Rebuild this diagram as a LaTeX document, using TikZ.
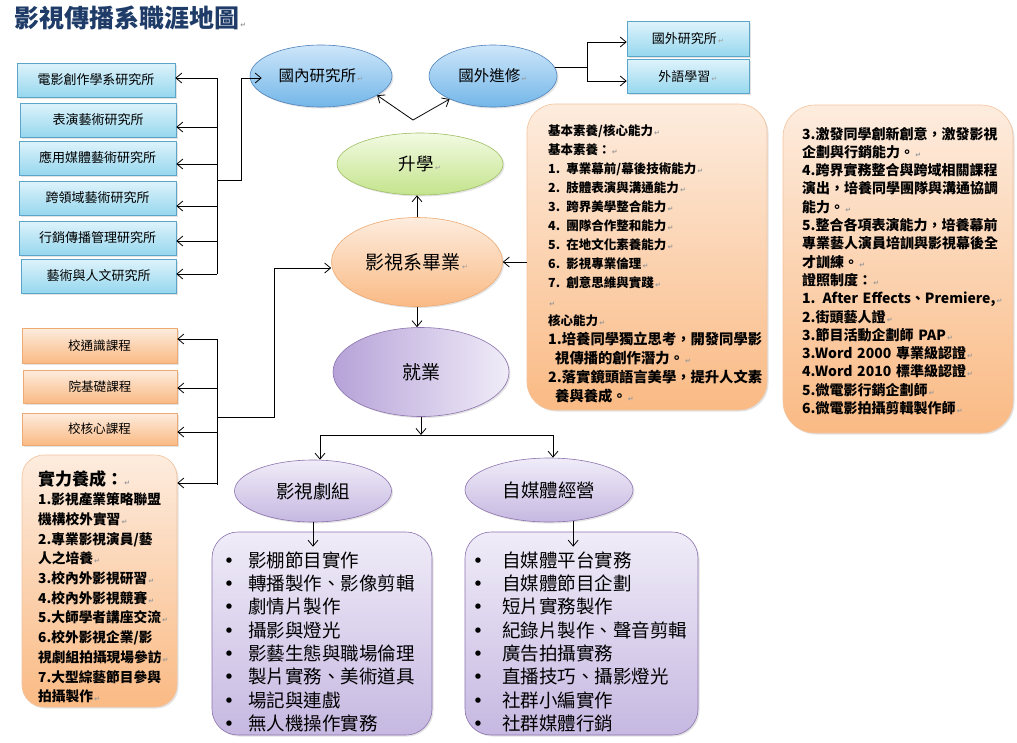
\documentclass[tikz,border=0pt]{standalone}
\usepackage{fontspec}
\setmainfont{Noto Sans CJK TC}
\newfontfamily\dvs{DejaVu Sans}
\usetikzlibrary{arrows.meta,shapes.geometric,shadows,calc}
\definecolor{bxT}{RGB}{222,243,251}
\definecolor{bxB}{RGB}{150,215,238}
\definecolor{bxD}{RGB}{90,165,200}
\definecolor{elT}{RGB}{205,230,250}
\definecolor{elB}{RGB}{115,182,232}
\definecolor{elD}{RGB}{80,130,185}
\definecolor{grT}{RGB}{242,250,226}
\definecolor{grB}{RGB}{196,228,140}
\definecolor{grD}{RGB}{160,190,100}
\definecolor{orT}{RGB}{253,236,222}
\definecolor{orB}{RGB}{250,186,132}
\definecolor{orD}{RGB}{238,170,115}
\definecolor{puT}{RGB}{240,236,248}
\definecolor{puB}{RGB}{198,184,225}
\definecolor{puD}{RGB}{140,115,175}
\definecolor{puL}{RGB}{182,162,216}
\definecolor{ttl}{RGB}{31,60,105}
\newcommand{\retmark}{{\dvs\fontsize{7}{7}\selectfont\color{black!40}\,↵}}
\newcommand{\lbul}[1]{\makebox[#1][l]{\dvs •}}
\tikzset{
  arr/.style={-{Straight Barb[length=6pt,width=10pt]}, line width=0.8pt},
  ln/.style={line width=0.8pt},
  shad/.style={drop shadow={opacity=0.22,shadow xshift=1.5pt,shadow yshift=-1.5pt}},
  bluebox/.style={draw=bxD, line width=0.6pt, top color=bxT, bottom color=bxB, minimum height=34pt, inner sep=0pt, font=\fontsize{13}{15}\selectfont, shad},
  orbox/.style={draw=orD, line width=0.6pt, top color=orT, bottom color=orB, inner sep=0pt, font=\fontsize{12.6}{15}\selectfont, shad},
  orbig/.style={draw=orD!70, line width=0.6pt, top color=orT, bottom color=orB, inner sep=0pt, shad},
  purbig/.style={draw=puD, line width=0.6pt, top color=puT, bottom color=puB, inner sep=0pt, shad},
  blueell/.style={ellipse, draw=elD, line width=0.6pt, top color=elT, bottom color=elB, inner sep=0pt, font=\fontsize{15.5}{18}\selectfont, shad},
  greenell/.style={ellipse, draw=grD, line width=0.6pt, top color=grT, bottom color=grB, inner sep=0pt, font=\fontsize{17.5}{20}\selectfont, shad},
  orell/.style={ellipse, draw=orD, line width=0.6pt, top color=orT, bottom color=orB, inner sep=0pt, font=\fontsize{19}{22}\selectfont, shad},
  jobell/.style={ellipse, draw=puD, line width=0.6pt, left color=puL, right color=puT, inner sep=0pt, font=\fontsize{19}{22}\selectfont, shad},
  purell/.style={ellipse, draw=puD, line width=0.6pt, top color=puT, bottom color=puB, inner sep=0pt, font=\fontsize{18.5}{22}\selectfont, shad},
  txt/.style={anchor=north west, inner sep=0pt, align=left}
}
\begin{document}
\begin{tikzpicture}[x=1pt,y=-1pt]
\useasboundingbox (0,0) rectangle (1017,742);
\fill[white] (0,0) rectangle (1017,742);

% title
\node[anchor=west, inner sep=0pt, text=ttl, font=\fontsize{25}{28}\selectfont\bfseries] (title) at (14,18) {影視傳播系職涯地圖\retmark};

% left blue boxes
\node[bluebox, minimum width=158pt] (b1) at (96,80) {電影創作學系研究所};
\node[bluebox, minimum width=156pt] (b2) at (98,120) {表演藝術研究所};
\node[bluebox, minimum width=157pt] (b3) at (97.5,158) {應用媒體藝術研究所};
\node[bluebox, minimum width=157pt] (b4) at (97.5,198) {跨領域藝術研究所};
\node[bluebox, minimum width=157pt] (b5) at (97.5,238) {行銷傳播管理研究所};
\node[bluebox, minimum width=155pt] (b6) at (98.5,276) {藝術與人文研究所};

% top right boxes
\node[bluebox, minimum width=122pt, minimum height=35pt] (fr) at (688,39) {國外研究所\retmark};
\node[bluebox, minimum width=122pt] (fl) at (688,76.5) {外語學習\retmark};

% ellipses
\node[blueell, minimum width=142pt, minimum height=62pt] (nd) at (321,76) {國內研究所\retmark};
\node[blueell, minimum width=128pt, minimum height=62pt] (fw) at (493,76) {國外進修\retmark};
\node[greenell, minimum width=166pt, minimum height=62pt] (up) at (420,164) {升學\retmark};
\node[orell, minimum width=171pt, minimum height=89pt] (grad) at (417,262) {影視系畢業\retmark};
\node[jobell, minimum width=176pt, minimum height=89pt] (job) at (421,372) {就業};
\node[purell, minimum width=157pt, minimum height=62pt] (crew) at (313,491) {影視劇組};
\node[purell, minimum width=168pt, minimum height=64pt] (self) at (549,490) {自媒體經營};

% left orange boxes
\node[orbox, minimum width=155pt, minimum height=35pt] (o1) at (99.5,345.5) {校通識課程};
\node[orbox, minimum width=154pt, minimum height=33pt] (o2) at (100,386.5) {院基礎課程};
\node[orbox, minimum width=155pt, minimum height=32pt] (o3) at (99.5,429) {校核心課程};

% big rounded boxes
\node[orbig, minimum width=240pt, minimum height=306pt, rounded corners=28pt] (cbox) at (647,257) {};
\node[orbig, minimum width=230pt, minimum height=328pt, rounded corners=32pt] (rbox) at (898,269) {};
\node[orbig, minimum width=155pt, minimum height=252pt, rounded corners=22pt] (skbox) at (99.5,581) {};
\node[purbig, minimum width=220pt, minimum height=203pt, rounded corners=26pt] (cl) at (322,633.5) {};
\node[purbig, minimum width=233pt, minimum height=203pt, rounded corners=26pt] (sl) at (581.5,633.5) {};

% center box text
\node[txt, text width=219pt, font=\fontsize{12.5}{19}\selectfont\bfseries] (ctext) at (548,124.5) {%
基本素養/核心能力\retmark\\
基本素養：\retmark\\
1. 專業幕前/幕後技術能力\retmark\\
2. 肢體表演與溝通能力\retmark\\
3. 跨界美學整合能力\retmark\\
4. 團隊合作整和能力\retmark\\
5. 在地文化素養能力\retmark\\
6. 影視專業倫理\retmark\\
7. 創意思維與實踐\retmark\\
\retmark\\
核心能力\retmark\\
{\fontsize{14.3}{19}\selectfont 1.培養同學獨立思考，開發同學影}\\
\hspace*{7pt}{\fontsize{14.3}{19}\selectfont 視傳播的創作潛力。}\retmark\\
{\fontsize{14.3}{19}\selectfont 2.落實鏡頭語言美學，提升人文素}\\
\hspace*{7pt}{\fontsize{14.3}{19}\selectfont 養與養成。}\retmark};

% right box text
\node[txt, text width=211pt, font=\fontsize{14}{18.3}\selectfont\bfseries] (rtext) at (802,126.7) {%
3.激發同學創新創意，激發影視\\
企劃與行銷能力。\retmark\\
4.跨界實務整合與跨域相關課程\\
演出，培養同學團隊與溝通協調\\
能力。\retmark\\
5.整合各項表演能力，培養幕前\\
專業藝人演員培訓與影視幕後全\\
才訓練。\retmark\\
證照制度：\retmark\\
1. After Effects、Premiere,\retmark\\
2.街頭藝人證\retmark\\
3.節目活動企劃師 PAP\retmark\\
3.Word 2000 專業級認證\retmark\\
4.Word 2010 標準級認證\retmark\\
5.微電影行銷企劃師\retmark\\
6.微電影拍攝剪輯製作師\retmark};

% skill box text
\node[txt, text width=136pt, font=\fontsize{13.7}{19.7}\selectfont\bfseries] (sktext) at (38,470) {%
{\fontsize{17}{19.7}\selectfont 實力養成：}\retmark\\
1.影視產業策略聯盟\\
機構校外實習\retmark\\
2.專業影視演員/藝\\
人之培養\retmark\\
3.校內外影視研習\retmark\\
4.校內外影視競賽\retmark\\
5.大師學者講座交流\retmark\\
6.校外影視企業/影\\
視劇組拍攝現場參訪\retmark\\
7.大型綜藝節目參與\\
拍攝製作\retmark};

% list texts
\node[txt, text width=205pt, font=\fontsize{18.5}{23.3}\selectfont] (cltext) at (223.5,551.5) {%
\lbul{24.5pt}影棚節目實作\\
\lbul{24.5pt}轉播製作、影像剪輯\\
\lbul{24.5pt}劇情片製作\\
\lbul{24.5pt}攝影與燈光\\
\lbul{24.5pt}影藝生態與職場倫理\\
\lbul{24.5pt}製片實務、美術道具\\
\lbul{24.5pt}場記與連戲\\
\lbul{24.5pt}無人機操作實務};
\node[txt, text width=225pt, font=\fontsize{18.5}{23.3}\selectfont] (sltext) at (472.5,551.5) {%
\lbul{29.5pt}自媒體平台實務\\
\lbul{29.5pt}自媒體節目企劃\\
\lbul{29.5pt}短片實務製作\\
\lbul{29.5pt}紀錄片製作、聲音剪輯\\
\lbul{29.5pt}廣告拍攝實務\\
\lbul{29.5pt}直播技巧、攝影燈光\\
\lbul{29.5pt}社群小編實作\\
\lbul{29.5pt}社群媒體行銷};

% ---------- connectors ----------
% bracket to graduate institutes
\draw[ln] (217,78) -- (217,274);
\draw[arr] (217,78) -- (b1.east |- 0,78);
\draw[arr] (217,127) -- (b2.east |- 0,127);
\draw[arr] (217,164) -- (b3.east |- 0,164);
\draw[arr] (217,206) -- (b4.east |- 0,206);
\draw[arr] (217,241) -- (b5.east |- 0,241);
\draw[arr] (217,274) -- (b6.east |- 0,274);
\draw[arr] (217,180) -- (241,180) -- (241,78) -- ($(nd.west)+(12,2)$);

% from 升學 up
\coordinate (apex) at (413,120);
\draw[arr] (apex) -- (nd.-19);
\draw[arr] (apex) -- (fw.208);

% 國外進修 to boxes
\coordinate (fk) at (587,67);
\draw[ln] (fw.8) -- (fw.8 -| fk);
\draw[arr] (fk) |- ($(fr.west)+(0,3)$);
\draw[arr] (fk) |- ($(fl.west)+(0,4.5)$);

% center
\draw[arr] (grad.north) -- (grad.north |- up.south);
\draw[arr] (cbox.west |- grad.east) -- (grad.east);

% bracket of courses
\draw[ln] (217,339) -- (217,485);
\draw[arr] (217,339) -- (o1.east |- 0,339);
\draw[arr] (217,388) -- (o2.east |- 0,388);
\draw[arr] (217,432) -- (o3.east |- 0,432);
\draw[arr] (217,483) -- (skbox.east |- 0,483);
\draw[arr] (217,417) -- (274,417) -- (274,268) -- (grad.west |- 0,268);

% down
\draw[arr] (grad.south) -- (grad.south |- job.north);
\coordinate (jb) at (421,435);
\draw[arr] (job.south) -- (jb);
\draw[arr] (jb) -| ($(crew.north)+(7,0)$);
\draw[arr] (jb) -| ($(self.north)+(4,0)$);
\draw[arr] (crew.south) -- ($(crew.south |- cl.north)+(0,15)$);
\draw[arr] (self.-52) -- ($(self.-52 |- sl.north)+(0,15)$);
\end{tikzpicture}
\end{document}
